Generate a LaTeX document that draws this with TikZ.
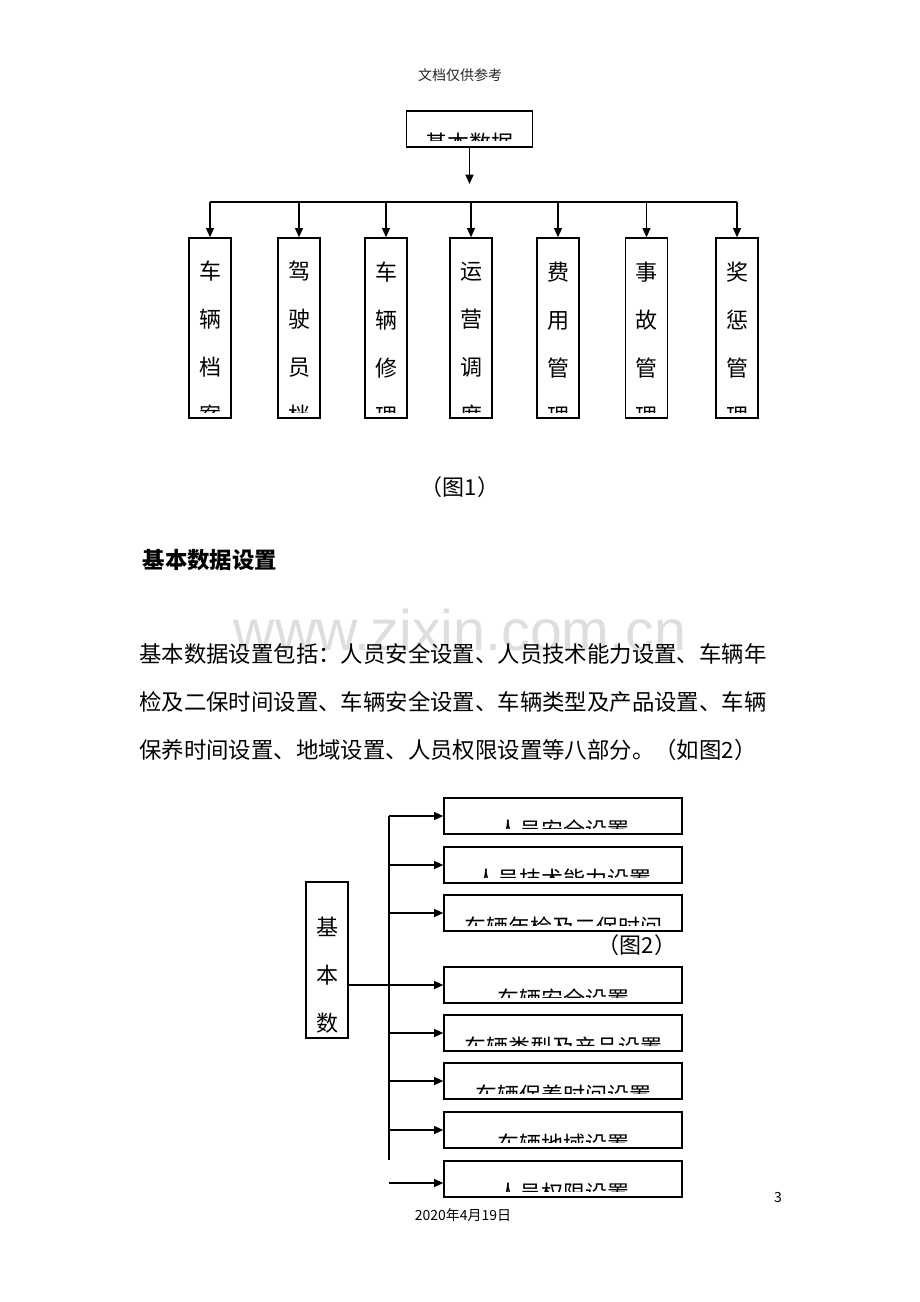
\documentclass[tikz,border=0pt]{standalone}
\usepackage{fontspec}
\setmainfont{Noto Sans CJK SC}
\newfontfamily\wmfont{Liberation Sans}
\usetikzlibrary{arrows.meta}

\begin{document}
\begin{tikzpicture}[x=0.75pt,y=-0.75pt,font=\fontsize{16.5pt}{36pt}\selectfont,
  box/.style={draw,line width=1pt,inner sep=0pt},
  arr/.style={line width=1pt,-{Triangle[length=7pt,width=6pt]}},
  vbox/.style={box,minimum width=31.5pt,minimum height=135pt,
    path picture={\clip (path picture bounding box.north west) rectangle ([yshift=4.5pt]path picture bounding box.south east);
      \node[anchor=north,inner sep=0pt,align=center] at ([yshift=-11pt]path picture bounding box.north) {#1};}},
  hbox/.style={box,minimum width=178.5pt,minimum height=27pt,
    path picture={\clip (path picture bounding box.north west) rectangle ([yshift=4.5pt]path picture bounding box.south east);
      \node[anchor=north,inner sep=0pt] at ([yshift=-10pt]path picture bounding box.north) {#1};}},
  small/.style={font=\fontsize{10.5pt}{12pt}\selectfont}]
\path[use as bounding box,fill=white] (0,0) rectangle (920,1302);

\node[small,text=black!85] (head) at (460,75) {文档仅供参考};

\node[hbox=基本数据,minimum width=94.5pt] (top) at (469.5,129) {};
\coordinate (tip) at (469.5,184);
\coordinate (bar) at (0,202);
\draw[arr] (top) -- (tip);

\node[vbox={车\\辆\\档\\案}] (c1) at (210,328) {};
\node[vbox={驾\\驶\\员\\档}] (c2) at (299,328) {};
\node[vbox={车\\辆\\修\\理}] (c3) at (386,328) {};
\node[vbox={运\\营\\调\\度}] (c4) at (471,328) {};
\node[vbox={费\\用\\管\\理}] (c5) at (558,328) {};
\node[vbox={事\\故\\管\\理}] (c6) at (646.5,328) {};
\node[vbox={奖\\惩\\管\\理}] (c7) at (737,328) {};

\draw[line width=1pt] (c1.north |- bar) -- (c7.north |- bar);
\draw[arr] (c1.north |- bar) -- (c1.north);
\draw[arr] (c2.north |- bar) -- (c2.north);
\draw[arr] (c3.north |- bar) -- (c3.north);
\draw[arr] (c4.north |- bar) -- (c4.north);
\draw[arr] (c5.north |- bar) -- (c5.north);
\draw[arr] (c6.north |- bar) -- (c6.north);
\draw[arr] (c7.north |- bar) -- (c7.north);

\node (cap1) at (460,487) {（图1）};

\node[anchor=west,font=\fontsize{16.8pt}{36pt}\selectfont\bfseries] (title) at (138,560) {基本数据设置};

\node[text=black!13,font=\wmfont\fontsize{43pt}{46pt}\selectfont] (mark) at (460,630) {www.zixin.com.cn};
\node[anchor=north west,inner sep=0pt,align=left,font=\fontsize{16.8pt}{36pt}\selectfont] (para) at (139,643)
  {基本数据设置包括：人员安全设置、人员技术能力设置、车辆年\\
   检及二保时间设置、车辆安全设置、车辆类型及产品设置、车辆\\
   保养时间设置、地域设置、人员权限设置等八部分。（如图2）};

\node[vbox={基\\本\\数},minimum height=117pt] (base) at (327,960) {};

\node[hbox=人员安全设置] (r1) at (563,816) {};
\node[hbox=人员技术能力设置] (r2) at (563,865) {};
\node[hbox=车辆年检及二保时间] (r3) at (563,913) {};
\node[hbox=车辆安全设置] (r4) at (563,985) {};
\node[hbox=车辆类型及产品设置] (r5) at (563,1033) {};
\node[hbox=车辆保养时间设置] (r6) at (563,1081) {};
\node[hbox=车辆地域设置] (r7) at (563,1130) {};
\node[hbox=人员权限设置] (r8) at (563,1179) {};

\coordinate (t1) at (389,816);
\coordinate (t2) at (389,1160);
\draw[line width=1pt] (t1) -- (t2);
\draw[arr] (t1) -- (r1.west);
\draw[arr] (t1 |- r2.west) -- (r2.west);
\draw[arr] (t1 |- r3.west) -- (r3.west);
\draw[arr] (base.east |- r4.west) -- (r4.west);
\draw[arr] (t1 |- r5.west) -- (r5.west);
\draw[arr] (t1 |- r6.west) -- (r6.west);
\draw[arr] (t1 |- r7.west) -- (r7.west);
\draw[arr] ([yshift=-3pt]t1 |- r8.west) -- ([yshift=-3pt]r8.west);

\node (cap2) at (637,945) {（图2）};

\node[small] (date) at (463,1215) {2020年4月19日};
\node[small] (page) at (778,1197) {3};
\end{tikzpicture}
\end{document}
